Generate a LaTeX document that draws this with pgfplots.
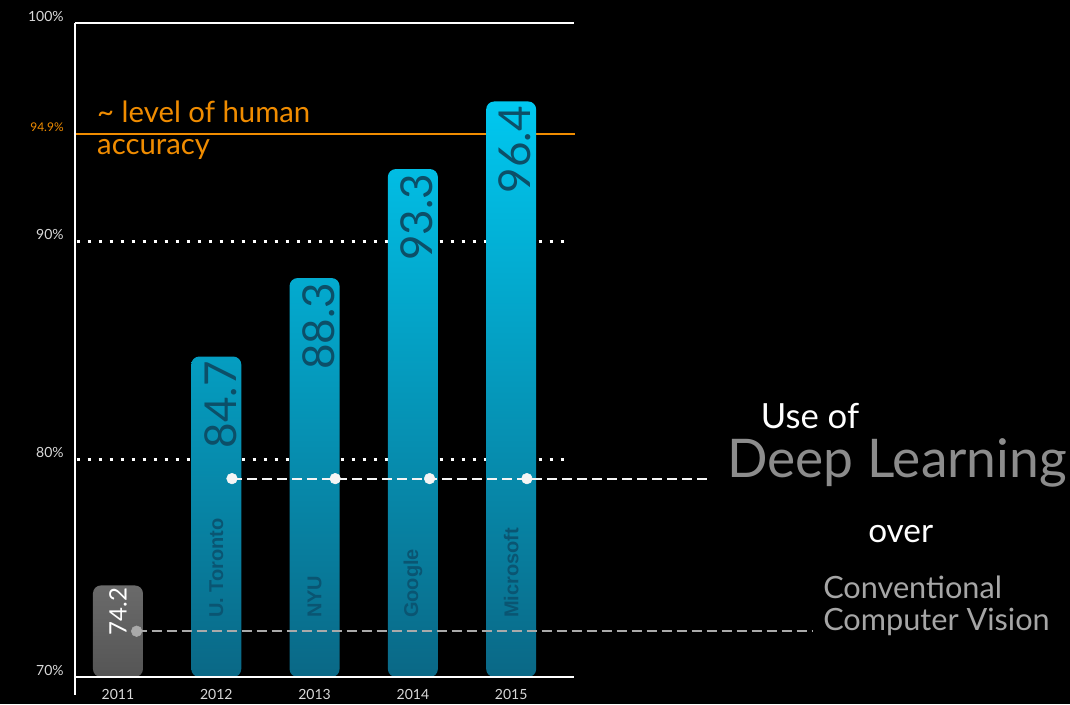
\documentclass[border=0pt]{standalone}
\usepackage{pgfplots}
\pgfplotsset{compat=1.18}
\usepackage{fontspec}
\setmainfont{Lato}
\newfontfamily\namefont{Liberation Sans}
\definecolor{barTop}{HTML}{00C8F0}
\definecolor{barBot}{HTML}{0A6886}
\definecolor{humanOrange}{HTML}{F08C00}
\definecolor{tickGray}{HTML}{D9D9D9}
\definecolor{barText}{HTML}{0C4F68}
\definecolor{barName}{HTML}{0A5572}
\definecolor{dlGray}{HTML}{8C8C8C}
\definecolor{cvGray}{HTML}{A6A6A6}
\definecolor{dashGray}{HTML}{AAAAAA}
\definecolor{oldTop}{HTML}{6A6A6A}
\definecolor{oldBot}{HTML}{555555}
\begin{document}
\begin{tikzpicture}[x=0.75pt,y=0.75pt]
\fill[black] (0,0) rectangle (1070,704);
\begin{axis}[
  at={(56.25pt,20.25pt)}, anchor=south west,
  scale only axis, width=374.25pt, height=490.5pt,
  xmin=-0.437, xmax=4.639, ymin=70, ymax=100,
  clip=false,
  axis line style={draw=none},
  xtick={0,1,2,3,4}, xticklabels={2011,2012,2013,2014,2015},
  ytick={70,80,90,94.9,100},
  yticklabels={70\%,80\%,90\%,{\textcolor{humanOrange}{\fontsize{9}{9}\selectfont 94.9\%}},100\%},
  major tick length=0pt,
  tick label style={color=tickGray, font=\fontsize{10.5}{12}\selectfont},
  xticklabel style={yshift=-6pt},
  yticklabel style={xshift=-5pt, yshift=5pt},
]
% dotted reference lines (behind bars)
\addplot[white, line width=2.25pt, dash pattern=on 2.25pt off 6pt] coordinates {(-0.42,80) (4.60,80)};
\addplot[white, line width=2.25pt, dash pattern=on 2.25pt off 6pt] coordinates {(-0.42,90) (4.60,90)};
% human accuracy line
\addplot[humanOrange, line width=1.6pt] coordinates {(-0.45,94.9) (4.65,94.9)};
% bars
\addplot[ybar, bar width=37.5pt, bar shift=0pt, top color=oldTop, bottom color=oldBot, draw=none, rounded corners=6pt] coordinates {(0,74.2)};
\addplot[ybar, bar width=37.5pt, bar shift=0pt, top color=barTop, bottom color=barBot, draw=none, rounded corners=6pt] coordinates {(1,84.7) (2,88.3) (3,93.3) (4,96.4)};
% dashed comparison lines
\addplot[white!92!gray, line width=1.6pt, dash pattern=on 7.5pt off 3.75pt] coordinates {(1.16,79.1) (6.02,79.1)};
\addplot[only marks, mark=*, mark size=4pt, white!92!gray, mark options={draw=none, fill=white!92!gray}] coordinates {(1.16,79.1) (2.21,79.1) (3.17,79.1) (4.16,79.1)};
\addplot[dashGray, line width=1.6pt, dash pattern=on 7.5pt off 3.75pt] coordinates {(0.19,72.1) (7.06,72.1)};
\addplot[only marks, mark=*, mark size=4pt, dashGray, mark options={draw=none, fill=dashGray}] coordinates {(0.19,72.1)};
% axis lines
\draw[white, line width=1.6pt] (rel axis cs:0,1) -- (rel axis cs:1,1);
\draw[white, line width=1.6pt] (rel axis cs:0,0) -- (rel axis cs:1,0);
\draw[white, line width=1.6pt] (rel axis cs:0,1) -- (rel axis cs:0,-0.028);
% bar values
\node[rotate=90, anchor=east, text=barText, font=\fontsize{33}{33}\selectfont] at (axis cs:1,84.7) [yshift=-3pt] {84.7};
\node[rotate=90, anchor=east, text=barText, font=\fontsize{33}{33}\selectfont] at (axis cs:2,88.3) [yshift=-3pt] {88.3};
\node[rotate=90, anchor=east, text=barText, font=\fontsize{33}{33}\selectfont] at (axis cs:3,93.3) [yshift=-3pt] {93.3};
\node[rotate=90, anchor=east, text=barText, font=\fontsize{33}{33}\selectfont] at (axis cs:4,96.4) [yshift=-3pt] {96.4};
\node[rotate=90, anchor=west, text=white, font=\fontsize{18}{18}\selectfont] at (axis cs:0,71.7) {74.2};
% bar names
\node[rotate=90, anchor=west, text=barName, font=\namefont\bfseries\fontsize{15}{15}\selectfont] at (axis cs:1,72.5) {U. Toronto};
\node[rotate=90, anchor=west, text=barName, font=\namefont\bfseries\fontsize{15}{15}\selectfont] at (axis cs:2,72.5) {NYU};
\node[rotate=90, anchor=west, text=barName, font=\namefont\bfseries\fontsize{15}{15}\selectfont] at (axis cs:3,72.5) {Google};
\node[rotate=90, anchor=west, text=barName, font=\namefont\bfseries\fontsize{15}{15}\selectfont] at (axis cs:4,72.5) {Microsoft};
% human accuracy text
\node[anchor=base west, inner sep=0pt, text=humanOrange, font=\fontsize{22}{22}\selectfont] at (axis cs:-0.214,95.45) {\textasciitilde\ level of human};
\node[anchor=base west, inner sep=0pt, text=humanOrange, font=\fontsize{22}{22}\selectfont] at (axis cs:-0.214,93.95) {accuracy};
\end{axis}
% right-hand annotation
\node[anchor=base, text=white, font=\fontsize{26}{26}\selectfont] at (810,276) {Use of};
\node[anchor=base west, inner sep=0pt, text=dlGray, font=\fontsize{40}{40}\selectfont] at (727,227) {Deep Learning};
\node[anchor=base west, inner sep=0pt, text=white, font=\fontsize{25}{25}\selectfont] at (868,162) {over};
\node[anchor=base west, inner sep=0pt, text=cvGray, font=\fontsize{23}{23}\selectfont] at (823,106) {Conventional};
\node[anchor=base west, inner sep=0pt, text=cvGray, font=\fontsize{23}{23}\selectfont] at (823,74) {Computer Vision};
\pgfresetboundingbox
\useasboundingbox (0,0) rectangle (1070,704);
\end{tikzpicture}
\end{document}
